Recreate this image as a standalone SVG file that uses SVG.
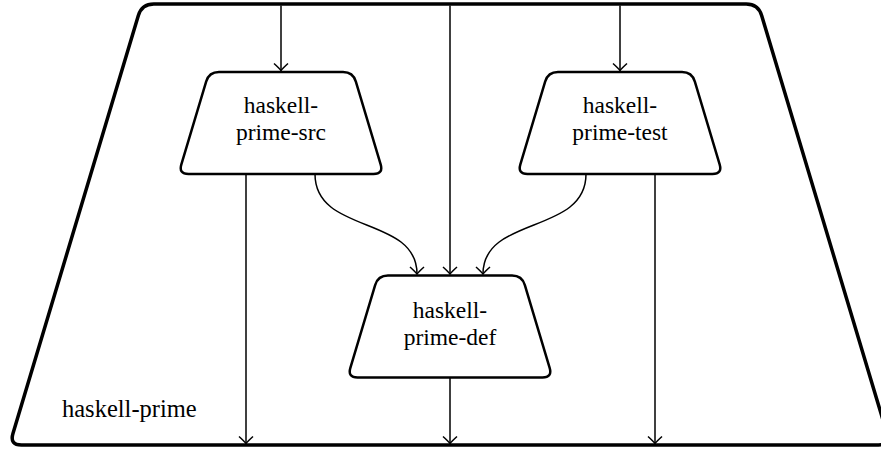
<svg xmlns="http://www.w3.org/2000/svg" width="881" height="450" viewBox="0 0 881 450">
<style>
.outer{fill:none;stroke:#000;stroke-width:3.5}
.node{fill:#fff;stroke:#000;stroke-width:2.5}
.edge{fill:none;stroke:#000;stroke-width:1.5}
.t{font-family:'Liberation Serif',serif;font-size:23.5px;fill:#000}
.c{text-anchor:middle}
</style>
<defs>
<marker id="arr" markerUnits="userSpaceOnUse" markerWidth="16" markerHeight="18" viewBox="-8 -9 10 18" refX="0" refY="0" orient="auto">
<path d="M-7,-7 Q-2,-1.5 0,0 Q-2,1.5 -7,7" fill="none" stroke="#000" stroke-width="1.5"/>
</marker>
</defs>
<g id="haskell-prime">
<path class="outer" d="M 153.8,4 L 746.2,4 Q 758.2,4 761.65,15.5 L 887.05,433.5 Q 890.5,445 878.5,445 L 21.5,445 Q 9.5,445 12.95,433.5 L 138.35,15.5 Q 141.8,4 153.8,4 Z"/>
<text class="t" style="font-size:24.5px" x="62" y="417">haskell-prime</text>
</g>
<g id="connectors">
<path class="edge" d="M 281,5.5 L 281,70.5" marker-end="url(#arr)"/>
<path class="edge" d="M 620,5.5 L 620,70.5" marker-end="url(#arr)"/>
<path class="edge" d="M 450,5.5 L 450,274" marker-end="url(#arr)"/>
<path class="edge" d="M 315,174 C 315,235 417,215 417,274" marker-end="url(#arr)"/>
<path class="edge" d="M 586,174 C 586,235 483,215 483,274" marker-end="url(#arr)"/>
<path class="edge" d="M 246,174 L 246,443.5" marker-end="url(#arr)"/>
<path class="edge" d="M 655,174 L 655,443.5" marker-end="url(#arr)"/>
<path class="edge" d="M 450,377.5 L 450,443.5" marker-end="url(#arr)"/>
</g>
<g id="haskell-prime-src">
<path class="node" d="M 219,72 L 343,72 Q 353,72 355.86,81.58 L 380.64,164.42 Q 383.5,174 373.5,174 L 188.5,174 Q 178.5,174 181.36,164.42 L 206.14,81.58 Q 209,72 219,72 Z"/>
<text class="t c" x="281" y="113">haskell-</text>
<text class="t c" x="281" y="140">prime-src</text>
</g>
<g id="haskell-prime-test">
<path class="node" d="M 558,72 L 682,72 Q 692,72 694.86,81.58 L 719.64,164.42 Q 722.5,174 712.5,174 L 527.5,174 Q 517.5,174 520.36,164.42 L 545.14,81.58 Q 548,72 558,72 Z"/>
<text class="t c" x="620" y="113">haskell-</text>
<text class="t c" x="620" y="140">prime-test</text>
</g>
<g id="haskell-prime-def">
<path class="node" d="M 388,275.5 L 512,275.5 Q 522,275.5 524.86,285.08 L 549.64,367.92 Q 552.5,377.5 542.5,377.5 L 357.5,377.5 Q 347.5,377.5 350.36,367.92 L 375.14,285.08 Q 378,275.5 388,275.5 Z"/>
<text class="t c" x="450" y="318">haskell-</text>
<text class="t c" x="450" y="345">prime-def</text>
</g>
</svg>
